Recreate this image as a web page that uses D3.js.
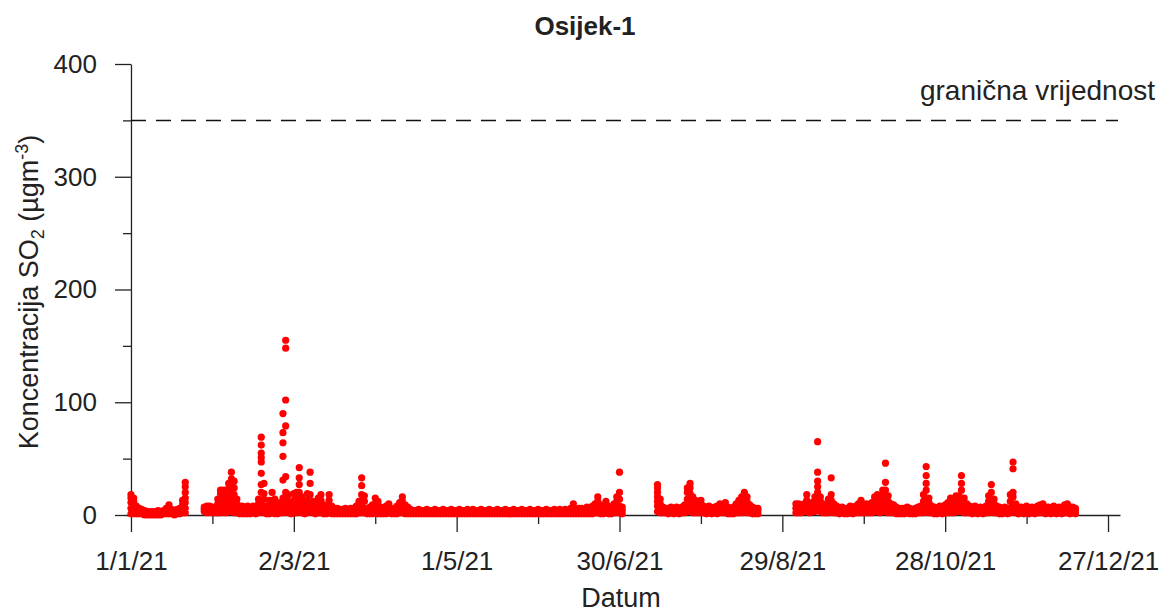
<!DOCTYPE html>
<html>
<head>
<meta charset="utf-8">
<script src="https://cdn.jsdelivr.net/npm/d3@7"></script>
<style>
body { margin: 0; background: #fff; }
svg text { font-family: "Liberation Sans", Arial, sans-serif; fill: #222; }
</style>
</head>
<body>
<script>
// SO2 readings (ugm-3), one list per day, [] = no data
const jan = [[1,6,11,15,18],[1,4,8,12,15],[1,5,8],[1,4,6],[1,3,5],[0,2,4],[0,2,3],[0,1,3],[0,2,3],[0,1,3],
  [0,2,4],[0,2,3],[1,3,4],[1,3,6],[1,4,9],[1,3,5],[0,2,4],[1,3,5],[1,4,6],[2,5,9,13],
  [2,6,11,15,20,25,29],[],[],[],[],[],[],[3,5,7],[2,6,8],[3,5,8],[2,4,7]];
const feb = [[2,5,7],[2,6,10,14],[2,6,10,15,19,22],[3,8,12,17,22],[2,7,12,18,22],[3,8,14,19,23,28],
  [3,9,15,20,26,32,38],[2,7,12,18,24,30],[2,6,10,14],[1,4,8],[1,5,8],[1,3,7],[1,4,8],[1,4,6],[2,5,8],
  [1,4,7],[2,6,10,14],[3,10,20,27,37,47,51,55,62,69],[2,8,14,19,28],[1,4,8],[1,5,9,13],[2,7,13,20],
  [1,5,10,14],[1,4,8],[2,6,11],[2,8,15,31,52,64,73,90],[3,10,20,34,79,102,148,155],[2,6,12,18]];
const mar = [[1,4,8],[2,7,13,19],[2,8,14,20],[3,10,20,27,33,42],[2,6,12,16],[1,5,10],[2,7,13,19],
  [3,10,18,28,38],[2,7,12],[1,4,8],[2,6,11,15],[2,8,13,18],[1,5,9],[1,4,7],[2,8,13,18],[1,4,8],
  [1,3,6],[1,4,6],[1,3,5],[1,3,5],[1,4,6],[1,3,5],[1,3,6],[1,4,6],[1,5,8],[2,6,12],
  [2,7,12,18,26,33],[2,6,12,17],[1,3,5],[1,4,7],[1,5,9]];
const apr = [[2,6,10,15],[1,5,9,12],[1,4,7],[1,3,5],[1,4,8],[2,5,10],[1,4,6],[1,3,5],[1,4,8],[2,6,11],
  [2,7,12,16],[1,5,9],[1,4,7],[1,3,5],[1,3,4],[1,2,4],[1,3,5],[1,2,4],[1,3,4],[1,3,5],
  [1,2,4],[1,3,4],[1,3,5],[1,2,4],[1,3,4],[1,3,5],[1,2,4],[1,3,4],[1,3,5],[1,2,4]];
const may = [[1,3,4],[1,3,5],[1,2,4],[1,3,4],[1,3,5],[1,2,4],[1,3,5],[1,3,4],[1,2,4],[1,3,5],
  [1,3,4],[1,2,4],[1,3,5],[1,3,4],[1,2,4],[1,3,5],[1,3,4],[1,2,4],[1,3,5],[1,3,4],
  [1,2,4],[1,3,5],[1,3,4],[1,2,4],[1,3,5],[1,3,4],[1,2,4],[1,3,5],[1,3,4],[1,2,4],[1,3,5]];
const jun = [[1,3,4],[1,2,4],[1,3,5],[1,3,4],[1,2,4],[1,3,5],[1,3,4],[1,3,5],[1,2,4],[1,3,5],
  [1,3,4],[1,3,6],[1,5,10],[1,3,5],[1,3,6],[1,4,6],[1,3,5],[1,4,7],[1,3,6],[1,4,8],
  [2,6,10],[2,7,12,16],[1,5,9],[1,4,7],[2,6,12],[1,4,8],[1,3,6],[2,6,10],[2,6,12,16],[2,8,14,20,38]];
const jul = [[1,4,7],[],[],[],[],[],[],[],[],[],[],[],[],
  [3,8,12,16,20,24,27],[2,6,10,14],[2,5,7],[2,4,6],[1,4,6],[2,5,7],[1,4,6],[2,5,7],[1,4,6],[2,5,7],
  [2,6,9],[3,8,14,20,24],[3,9,14,19,24,28],[2,7,12,16],[2,6,10,13],[2,5,9,12],[2,6,10,13],[2,5,8]];
const aug = [[1,4,7],[2,5,8],[1,4,6],[2,5,7],[1,4,8],[2,6,10],[2,6,9],[2,6,11],[1,4,7],[1,3,6],
  [1,4,7],[2,6,10],[2,6,11,13],[2,7,12,16],[3,8,13,17,20],[2,7,12,16],[2,5,9],[1,4,7],[1,3,6],[1,4,6],
  [],[],[],[],[],[],[],[],[],[],[]];
const sep = [[],[],[2,6,10],[2,6,10],[2,5,9],[3,7,10],[3,8,13,18],[2,6,10],[3,7,11],[3,8,12,16],
  [4,10,15,20,25,30,38,65],[3,8,12,16],[2,6,10],[2,5,8],[2,6,10,14],[3,8,13,18,33],[2,6,10],[2,5,8],
  [1,4,6],[2,5,7],[1,3,6],[1,4,6],[2,5,8],[1,4,7],[2,5,8],[2,6,10],[2,7,11,13],[2,5,9],[2,6,10],[2,5,8]];
const oct = [[2,6,11],[3,7,12,16],[3,8,13,18],[2,7,12,16],[3,8,13,18,22],[3,9,16,22,29,46],[2,7,12,17],
  [2,6,10],[2,5,9],[1,4,7],[1,4,6],[1,3,6],[1,4,6],[2,5,7],[1,4,6],[1,3,5],[1,4,6],[2,5,7],[2,5,8],
  [2,6,12,18],[3,9,15,22,28,35,43],[2,6,11,15],[2,5,8],[1,4,7],[1,3,6],[2,5,8],[1,4,7],[2,5,9],
  [2,6,11],[2,7,12,15],[2,6,10,13]];
const nov = [[3,8,13,17],[3,8,13,17],[3,9,15,22,28,35],[2,7,11,15],[2,6,10],[2,5,8],[1,4,7],[2,5,8],
  [1,4,6],[2,5,7],[1,4,6],[2,5,8],[2,7,12,17],[3,8,14,20,27],[2,6,10,14],[2,5,8],[1,4,7],[1,4,6],
  [2,5,7],[1,4,6],[2,6,12,18],[3,9,16,20,41,47],[2,6,10],[1,4,7],[2,5,7],[1,4,6],[2,5,8],[1,4,6],
  [2,5,7],[1,4,6]];
const dec = [[2,5,8],[2,6,9],[2,6,10],[1,4,7],[2,5,7],[1,4,6],[2,5,8],[1,4,6],[2,5,7],[1,4,6],
  [2,6,9],[2,6,10],[1,4,7],[2,5,7],[1,4,6]];
const months = [jan, feb, mar, apr, may, jun, jul, aug, sep, oct, nov, dec];

const yMajor = [0, 100, 200, 300, 400];
const yMinor = [50, 150, 250, 350];
const xMajor = ["2021-01-01", "2021-03-02", "2021-05-01", "2021-06-30", "2021-08-29", "2021-10-28", "2021-12-27"];
const xMinor = ["2021-01-31", "2021-04-01", "2021-05-31", "2021-07-30", "2021-09-28", "2021-11-27"];
const limitValue = 350;

const parse = d3.utcParse("%Y-%m-%d");
const points = [];
months.forEach((days, m) => {
  days.forEach((vals, i) => {
    vals.forEach(v => points.push({ date: new Date(Date.UTC(2021, m, i + 1)), v: v }));
  });
});

const w = 1162, h = 613;
const svg = d3.select("body").append("svg").attr("width", w).attr("height", h);

const x = d3.scaleUtc()
  .domain([new Date(Date.UTC(2020, 11, 30, 4)), new Date(Date.UTC(2021, 11, 31, 10))])
  .range([126, 1120]);
const y = d3.scaleLinear().domain([0, 400]).range([515, 64]);
const yAxisX = x(parse("2021-01-01"));

function styleAxis(g) {
  g.attr("font-family", null).attr("font-size", 26).attr("color", "#222");
  g.selectAll("line, path").attr("stroke", "#222").attr("stroke-width", 1.3);
}

// y axis
svg.append("g")
  .attr("transform", "translate(" + yAxisX + ",0)")
  .call(d3.axisLeft(y).tickValues(yMajor).tickSize(16).tickPadding(18).tickSizeOuter(0))
  .call(styleAxis);
svg.append("g")
  .attr("transform", "translate(" + yAxisX + ",0)")
  .call(d3.axisLeft(y).tickValues(yMinor).tickSize(8).tickFormat(""))
  .call(styleAxis)
  .call(g => g.select(".domain").remove());

// x axis
svg.append("g")
  .attr("transform", "translate(0," + y(0) + ")")
  .call(d3.axisBottom(x).tickValues(xMajor.map(parse)).tickSize(17).tickPadding(20)
    .tickSizeOuter(0).tickFormat(d3.utcFormat("%-d/%-m/%y")))
  .call(styleAxis);
svg.append("g")
  .attr("transform", "translate(0," + y(0) + ")")
  .call(d3.axisBottom(x).tickValues(xMinor.map(parse)).tickSize(9).tickFormat(""))
  .call(styleAxis)
  .call(g => g.select(".domain").remove());

// limit line
svg.append("line")
  .attr("x1", yAxisX).attr("x2", 1118)
  .attr("y1", y(limitValue)).attr("y2", y(limitValue))
  .attr("stroke", "#111").attr("stroke-width", 1.5)
  .attr("stroke-dasharray", "15,10");
svg.append("text")
  .attr("x", 1155).attr("y", 100)
  .attr("text-anchor", "end")
  .attr("font-size", 28)
  .text("granična vrijednost");

// points
svg.append("g").selectAll("circle")
  .data(points)
  .enter()
  .append("circle")
  .attr("cx", d => x(d.date))
  .attr("cy", d => y(d.v))
  .attr("r", 3.6)
  .attr("fill", "#ff0000");

// titles
svg.append("text")
  .attr("x", 585).attr("y", 35)
  .attr("text-anchor", "middle")
  .attr("font-size", 26).attr("font-weight", "bold")
  .text("Osijek-1");

svg.append("text")
  .attr("x", 621).attr("y", 607)
  .attr("text-anchor", "middle")
  .attr("font-size", 27)
  .text("Datum");

const yt = svg.append("text")
  .attr("transform", "translate(38,292) rotate(-90)")
  .attr("text-anchor", "middle")
  .attr("font-size", 27);
yt.append("tspan").text("Koncentracija SO");
yt.append("tspan").attr("font-size", 18).attr("dy", 6).text("2");
yt.append("tspan").attr("dy", -6).text(" (µgm");
yt.append("tspan").attr("font-size", 18).attr("dy", -10).text("-3");
yt.append("tspan").attr("dy", 10).text(")");
</script>
</body>
</html>
